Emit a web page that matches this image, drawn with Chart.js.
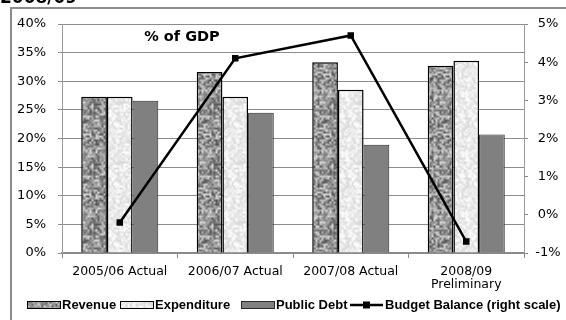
<!DOCTYPE html>
<html>
<head>
<meta charset="utf-8">
<script src="https://cdn.jsdelivr.net/npm/chart.js@4.4.1/dist/chart.umd.min.js"></script>
<style>
  html, body { margin: 0; padding: 0; background: #fff; }
  #wrap { width: 566px; height: 320px; position: relative; }
</style>
</head>
<body>
<div id="wrap"><canvas id="gdpChart"></canvas></div>
<script>
// values (% of GDP)
const categories = ['2005/06 Actual', '2006/07 Actual', '2007/08 Actual', ['2008/09', 'Preliminary']];
const revenue = [27.3, 31.6, 33.3, 32.7];
const expenditure = [27.3, 27.3, 28.5, 33.6];
const publicDebt = [26.6, 24.5, 18.9, 20.7];
const budgetBalance = [-0.2, 4.1, 4.7, -0.7];   // right scale
const leftTicks = { min: 0, max: 40, step: 5 };
const rightTicks = { min: -1, max: 5, step: 1 };

const FONT = 'DejaVu Sans';
const LEGEND_FONT = 'bold 13px "Liberation Sans", Arial, sans-serif';
const canvas = document.getElementById('gdpChart');
const ctx = canvas.getContext('2d');

// grainy fill like the old spreadsheet "granite" textures (seamless tile)
function grain(seed, lo, hi, n, k) {
  const cell = [];
  for (let i = 0; i < n * n; i++) {
    cell.push(Math.abs(Math.sin((i + 1) * 12.9898 + seed * 78.233) * 43758.5453) % 1);
  }
  const at = (cx, cy) => cell[((cy + n) % n) * n + ((cx + n) % n)];
  const size = n * k;
  const tile = document.createElement('canvas');
  tile.width = tile.height = size;
  const tctx = tile.getContext('2d');
  const img = tctx.createImageData(size, size);
  for (let py = 0; py < size; py++) {
    for (let px = 0; px < size; px++) {
      const fx = px / k, fy = py / k;
      const x0 = Math.floor(fx), y0 = Math.floor(fy);
      const tx = fx - x0, ty = fy - y0;
      const v = at(x0, y0) * (1 - tx) * (1 - ty) + at(x0 + 1, y0) * tx * (1 - ty) +
                at(x0, y0 + 1) * (1 - tx) * ty + at(x0 + 1, y0 + 1) * tx * ty;
      const g = Math.round(lo + v * (hi - lo));
      const o = (py * size + px) * 4;
      img.data[o] = img.data[o + 1] = img.data[o + 2] = g;
      img.data[o + 3] = 255;
    }
  }
  tctx.putImageData(img, 0, 0);
  return ctx.createPattern(tile, 'repeat');
}

const revFill = grain(3, 80, 220, 30, 2);
const expFill = grain(7, 215, 255, 30, 2);
const debtFill = '#808080';

const decor = {
  id: 'decor',
  beforeDraw(chart) {
    const c = chart.ctx;
    c.save();
    // title cut off at the top of the image
    c.fillStyle = '#000';
    c.font = 'bold 17px ' + FONT;
    c.textBaseline = 'alphabetic';
    c.textAlign = 'left';
    c.fillText('2008/09', 0, 3);
    // outer frame
    c.strokeStyle = '#8c8c8c';
    c.lineWidth = 2;
    c.strokeRect(11, 8, 620, 400);
    c.restore();
  },
  afterDraw(chart) {
    const c = chart.ctx;
    c.save();
    c.fillStyle = '#000';
    c.font = 'bold 14.5px ' + FONT;
    c.textAlign = 'center';
    c.textBaseline = 'middle';
    c.fillText('% of GDP', 182, 37);

    // legend
    const y = 305;
    const xs = [27, 120, 241, 350];
    c.font = LEGEND_FONT;
    c.textAlign = 'left';
    chart.data.datasets.forEach((ds, i) => {
      const x = xs[i];
      if (ds.type === 'line') {
        c.strokeStyle = '#000';
        c.lineWidth = 2.5;
        c.beginPath();
        c.moveTo(x, y);
        c.lineTo(x + 33, y);
        c.stroke();
        c.fillStyle = '#000';
        c.fillRect(x + 13, y - 3.5, 7, 7);
        c.fillText(ds.label, x + 35, y + 0.5);
      } else {
        c.fillStyle = ds.backgroundColor;
        c.fillRect(x, y - 3.5, 34, 7);
        c.strokeStyle = ds.borderColor;
        c.lineWidth = 1;
        c.strokeRect(x + 0.5, y - 3.5, 33, 7);
        c.fillStyle = '#000';
        c.fillText(ds.label, x + 35, y + 0.5);
      }
    });
    c.restore();
  }
};

new Chart(ctx, {
  data: {
    labels: categories,
    datasets: [
      { type: 'bar', label: 'Revenue', data: revenue, backgroundColor: revFill,
        borderColor: '#000', borderWidth: 1.5, yAxisID: 'y', order: 1 },
      { type: 'bar', label: 'Expenditure', data: expenditure, backgroundColor: expFill,
        borderColor: '#000', borderWidth: 1.5, yAxisID: 'y', order: 1 },
      { type: 'bar', label: 'Public Debt', data: publicDebt, backgroundColor: debtFill,
        borderColor: '#2a2a2a', borderWidth: 1, yAxisID: 'y', order: 1 },
      { type: 'line', label: 'Budget Balance (right scale)', data: budgetBalance, yAxisID: 'y1',
        borderColor: '#000', borderWidth: 2.5, tension: 0,
        pointStyle: 'rect', pointRadius: 4.6, pointBackgroundColor: '#000', pointBorderColor: '#000',
        pointBorderWidth: 0, order: 0 }
    ]
  },
  options: {
    responsive: true,
    maintainAspectRatio: false,
    animation: false,
    layout: { padding: { left: 0, right: 0, top: 24, bottom: 0 } },
    datasets: { bar: { categoryPercentage: 0.667, barPercentage: 1 } },
    plugins: { legend: { display: false }, tooltip: { enabled: false }, title: { display: false } },
    scales: {
      x: {
        offset: true,
        grid: { display: true, drawOnChartArea: false, drawTicks: true, tickLength: 5, color: '#888', offset: true },
        border: { display: true, color: '#8a8a8a', width: 2 },
        ticks: { color: '#000', font: { family: FONT, size: 12.5, lineHeight: 1.0 }, padding: 7.5,
                 maxRotation: 0, autoSkip: false },
        afterFit(s) { s.height = 67; }
      },
      y: {
        position: 'left',
        min: leftTicks.min, max: leftTicks.max,
        grid: { color: '#8c8c8c', lineWidth: 1, tickLength: 4 },
        border: { display: true, color: '#9a9a9a', width: 1 },
        ticks: { stepSize: leftTicks.step, color: '#000', padding: 12,
                 font: { family: FONT, size: 13 }, callback: v => v + '%' },
        afterFit(s) { s.width = 62; }
      },
      y1: {
        position: 'right',
        min: rightTicks.min, max: rightTicks.max,
        grid: { drawOnChartArea: false, color: '#888', tickLength: 4 },
        border: { display: true, color: '#9a9a9a', width: 1 },
        ticks: { stepSize: rightTicks.step, color: '#000', padding: 7.3, crossAlign: 'center',
                 font: { family: FONT, size: 13 }, callback: v => v + '%' },
        afterFit(s) { s.width = 42; }
      }
    }
  },
  plugins: [decor]
});
</script>
</body>
</html>
